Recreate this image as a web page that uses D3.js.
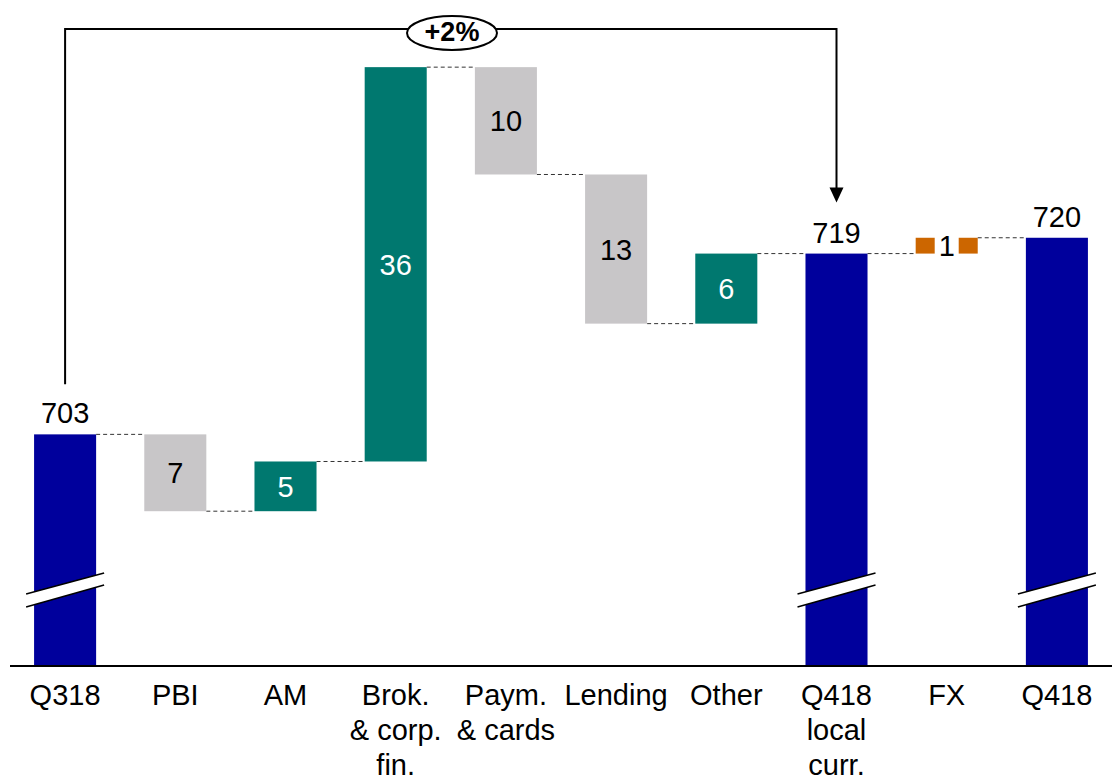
<!DOCTYPE html>
<html>
<head>
<meta charset="utf-8">
<script src="https://cdn.jsdelivr.net/npm/d3@7"></script>
<style>
  body { margin: 0; background: #fff; }
  text { font-family: "Liberation Sans", Arial, sans-serif; }
</style>
</head>
<body>
<svg id="chart" width="1115" height="782"></svg>
<script>
// categories and values
const categories = ["Q318", "PBI", "AM", "Brok.", "Paym.", "Lending", "Other", "Q418 local", "FX", "Q418"];
const categoryLines = [["Q318"], ["PBI"], ["AM"], ["Brok.", "& corp.", "fin."], ["Paym.", "& cards"],
                       ["Lending"], ["Other"], ["Q418", "local", "curr."], ["FX"], ["Q418"]];
const kinds = ["total", "neg", "pos", "pos", "neg", "neg", "pos", "total", "fx", "total"];
// deltas for steps, level for totals (unrounded estimates)
const values = [703, -6.8, 4.4, 34.9, -9.5, -13.2, 6.2, 719.0, 1.4, 720.4];
const valueLabels = ["703", "7", "5", "36", "10", "13", "6", "719", "1", "720"];
const growthLabel = "+2%";

const colors = { total: "#00009C", pos: "#00786F", neg: "#C8C6C8", fx: "#CC6600" };

const svg = d3.select("#chart");
const baseY = 666;

const x = d3.scaleBand()
    .domain(categories)
    .range([10, 1112])
    .paddingInner(0.437)
    .paddingOuter(0.2185);

const y = d3.scaleLinear()
    .domain([682.5, 741])
    .range([baseY, 5]);

// build waterfall segments
let level = 0;
const bars = categories.map((c, i) => {
    const k = kinds[i];
    let start, end;
    if (k === "total") {
        start = y.domain()[0];
        end = values[i];
        level = values[i];
    } else {
        start = level;
        end = level + values[i];
        level = end;
    }
    return { cat: c, kind: k, start, end, level, label: valueLabels[i] };
});

// connectors
const links = d3.range(bars.length - 1).map(i => ({ from: bars[i], to: bars[i + 1] }));
svg.selectAll("line.connector")
    .data(links)
    .enter()
    .append("line")
    .attr("class", "connector")
    .attr("x1", d => x(d.from.cat) + x.bandwidth())
    .attr("x2", d => x(d.to.cat))
    .attr("y1", d => y(d.from.level))
    .attr("y2", d => y(d.from.level))
    .attr("stroke", "#333")
    .attr("stroke-width", 1)
    .attr("stroke-dasharray", "4,3");

// bars
svg.selectAll("rect.bar")
    .data(bars)
    .enter()
    .append("rect")
    .attr("class", "bar")
    .attr("x", d => x(d.cat))
    .attr("width", x.bandwidth())
    .attr("y", d => y(Math.max(d.start, d.end)))
    .attr("height", d => Math.abs(y(d.start) - y(d.end)))
    .attr("fill", d => colors[d.kind]);

// axis break marks on total bars
const breakY = baseY - 76;
const breakGroup = svg.selectAll("g.break")
    .data(bars.filter(d => d.kind === "total"))
    .enter()
    .append("g")
    .attr("class", "break")
    .attr("transform", d => `translate(${x(d.cat) + x.bandwidth() / 2},${breakY})`);

breakGroup.append("polygon")
    .attr("points", "-39,4 39,-17 39,-5 -39,17")
    .attr("fill", "#fff");
breakGroup.append("line")
    .attr("x1", -39).attr("y1", 4).attr("x2", 39).attr("y2", -17)
    .attr("stroke", "#000").attr("stroke-width", 1.5);
breakGroup.append("line")
    .attr("x1", -39).attr("y1", 17).attr("x2", 39).attr("y2", -5)
    .attr("stroke", "#000").attr("stroke-width", 1.5);

// value labels
svg.selectAll("text.value")
    .data(bars)
    .enter()
    .append("text")
    .attr("class", "value")
    .attr("x", d => x(d.cat) + x.bandwidth() / 2)
    .attr("y", d => d.kind === "total"
        ? y(d.end) - 11
        : (y(d.start) + y(d.end)) / 2)
    .attr("dy", d => d.kind === "total" ? 0 : "0.36em")
    .attr("text-anchor", "middle")
    .attr("font-size", 29)
    .attr("fill", d => d.kind === "pos" ? "#fff" : "#000")
    .each(function (d) {
        if (d.kind === "fx") {
            // white gap behind the FX label
            svg.insert("rect", "text.value")
                .attr("x", x(d.cat) + x.bandwidth() / 2 - 12)
                .attr("width", 24)
                .attr("y", y(d.end) - 2)
                .attr("height", y(d.start) - y(d.end) + 4)
                .attr("fill", "#fff");
        }
    })
    .text(d => d.label);

// category axis
svg.append("line")
    .attr("x1", 10).attr("x2", 1112)
    .attr("y1", baseY).attr("y2", baseY)
    .attr("stroke", "#000").attr("stroke-width", 2);

svg.selectAll("text.cat")
    .data(categories)
    .enter()
    .append("text")
    .attr("class", "cat")
    .attr("x", d => x(d) + x.bandwidth() / 2)
    .attr("y", 705)
    .attr("text-anchor", "middle")
    .attr("font-size", 29)
    .selectAll("tspan")
    .data((d, i) => categoryLines[i])
    .enter()
    .append("tspan")
    .attr("x", function () { return d3.select(this.parentNode).attr("x"); })
    .attr("dy", (d, i) => i === 0 ? 0 : 35)
    .text(d => d);

// growth bracket from Q318 to Q418 local
const bx1 = x(categories[0]) + x.bandwidth() / 2;
const bx2 = x(categories[7]) + x.bandwidth() / 2;
const topY = 29;
svg.append("path")
    .attr("d", `M${bx1},${y(values[0]) - 50} V${topY} H${bx2} V${y(values[7]) - 64}`)
    .attr("fill", "none")
    .attr("stroke", "#000")
    .attr("stroke-width", 2);
svg.append("path")
    .attr("d", `M${bx2 - 7},${y(values[7]) - 66} L${bx2 + 7},${y(values[7]) - 66} L${bx2},${y(values[7]) - 51} Z`)
    .attr("fill", "#000");

const ex = 452;
svg.append("ellipse")
    .attr("cx", ex).attr("cy", topY + 4)
    .attr("rx", 45).attr("ry", 17)
    .attr("fill", "#fff")
    .attr("stroke", "#000")
    .attr("stroke-width", 2);
svg.append("text")
    .attr("x", ex).attr("y", topY + 2)
    .attr("dy", "0.36em")
    .attr("text-anchor", "middle")
    .attr("font-size", 27)
    .attr("font-weight", "bold")
    .text(growthLabel);
</script>
</body>
</html>
